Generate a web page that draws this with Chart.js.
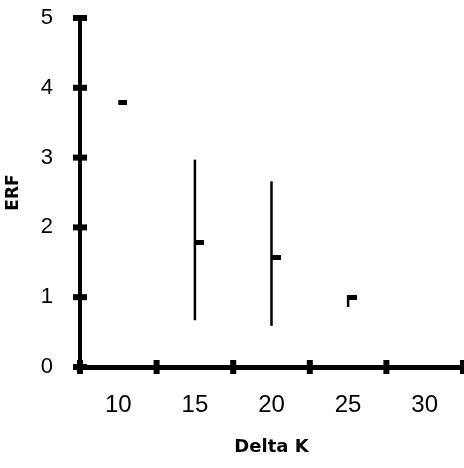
<!DOCTYPE html>
<html lang="en">
<head>
    <meta charset="UTF-8">
    <title>ERF vs Delta K</title>
    <script src="https://cdn.jsdelivr.net/npm/chart.js"></script>
    <style>
        body { margin: 0; background: #fff; }
        canvas { display: block; }
    </style>
</head>
<body>
    <canvas id="erfChart" width="464" height="468"></canvas>

    <script>
        // Measured values
        const deltaK = [10, 15, 20, 25];
        const erfMean = [3.79, 1.78, 1.57, 1.0];
        const erfLow = [null, 0.67, 0.59, 0.86];
        const erfHigh = [null, 2.97, 2.66, 1.03];

        // Axis ticks: labels at the centres, marks between them
        const xTickLabels = [10, 15, 20, 25, 30];
        const xTickMarks = [7.5, 12.5, 17.5, 22.5, 27.5, 32.5];
        const yTickLabels = [0, 1, 2, 3, 4, 5];

        // Small flag marker that sits to the right of the error bar
        function makeMarker() {
            const c = document.createElement('canvas');
            c.width = 18;
            c.height = 5;
            const g = c.getContext('2d');
            g.fillStyle = '#000';
            g.fillRect(9, 0, 9, 5);
            return c;
        }

        // One line dataset per error bar
        const errorBars = deltaK
            .map((x, i) => ({ x, lo: erfLow[i], hi: erfHigh[i] }))
            .filter(d => d.lo !== null)
            .map(d => ({
                type: 'line',
                data: [{ x: d.x, y: d.lo }, { x: d.x, y: d.hi }],
                borderColor: '#000',
                borderWidth: 2.5,
                pointRadius: 0
            }));

        // Cross-axis tick marks drawn on top of the axis lines
        const axisMarks = {
            id: 'axisMarks',
            afterDraw(chart) {
                const { ctx, scales: { x, y } } = chart;
                ctx.save();
                ctx.fillStyle = '#000';
                xTickMarks.forEach(v => {
                    const px = x.getPixelForValue(v);
                    ctx.fillRect(px - 3, y.bottom - 7, 6, 14);
                });
                yTickLabels.forEach(v => {
                    const py = y.getPixelForValue(v);
                    ctx.fillRect(x.left - 7, py - 3, 14, 6);
                });
                ctx.restore();
            }
        };

        new Chart(document.getElementById('erfChart'), {
            type: 'scatter',
            data: {
                datasets: [
                    ...errorBars,
                    {
                        type: 'scatter',
                        data: deltaK.map((x, i) => ({ x, y: erfMean[i] })),
                        pointStyle: makeMarker(),
                        pointRadius: 5
                    }
                ]
            },
            options: {
                responsive: false,
                animation: false,
                layout: {
                    autoPadding: false,
                    padding: { top: 18, right: 1, bottom: 0, left: 0 }
                },
                plugins: {
                    legend: { display: false },
                    tooltip: { enabled: false }
                },
                scales: {
                    x: {
                        type: 'linear',
                        min: 7.5,
                        max: 32.5,
                        afterBuildTicks: s => { s.ticks = xTickLabels.map(v => ({ value: v })); },
                        afterFit: s => {
                            s.height = 101;
                            s.paddingLeft = 0;
                            s.paddingRight = 0;
                        },
                        grid: { display: false },
                        border: { color: '#000', width: 5 },
                        ticks: {
                            color: '#000',
                            padding: 16,
                            font: { family: 'Liberation Sans', size: 24 }
                        },
                        title: {
                            display: true,
                            text: 'Delta K',
                            color: '#000',
                            padding: { bottom: 10 },
                            font: { family: 'DejaVu Sans', size: 18, weight: 'bold' }
                        }
                    },
                    y: {
                        min: 0,
                        max: 5,
                        afterBuildTicks: s => { s.ticks = yTickLabels.map(v => ({ value: v })); },
                        afterFit: s => {
                            s.width = 80;
                            s.paddingTop = 0;
                            s.paddingBottom = 0;
                        },
                        grid: { display: false },
                        border: { color: '#000', width: 4 },
                        ticks: {
                            color: '#000',
                            padding: 19,
                            font: { family: 'Liberation Sans', size: 22 }
                        },
                        title: {
                            display: true,
                            text: 'ERF',
                            color: '#000',
                            padding: { top: 3 },
                            font: { family: 'DejaVu Sans', size: 17, weight: 'bold' }
                        }
                    }
                }
            },
            plugins: [axisMarks]
        });
    </script>
</body>
</html>
